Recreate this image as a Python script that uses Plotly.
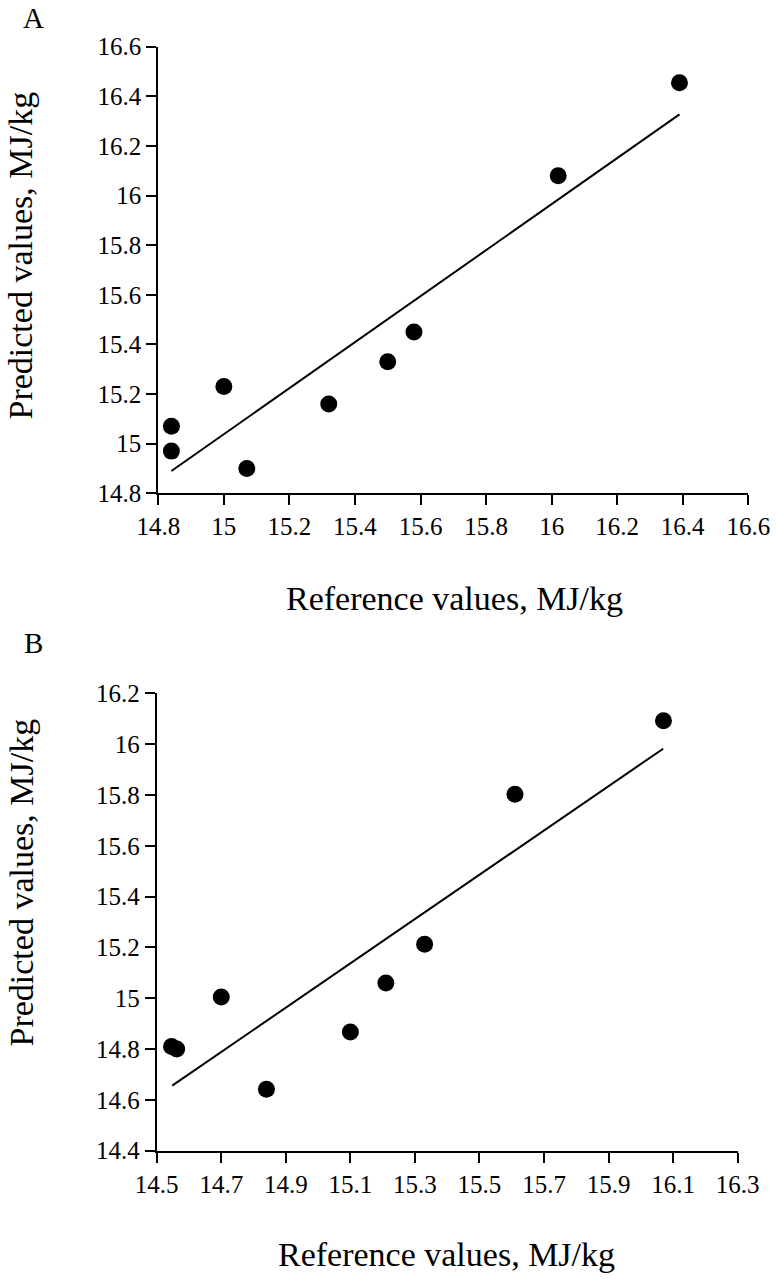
import plotly.graph_objects as go

# Panel A data
a_ref = [14.84, 14.84, 15.00, 15.07, 15.32, 15.50, 15.58, 16.02, 16.39]
a_pred = [15.07, 14.97, 15.23, 14.90, 15.16, 15.33, 15.45, 16.08, 16.455]
a_fit_x = [14.84, 16.39]
a_fit_y = [14.89, 16.327]
a_xticks = [14.8, 15.0, 15.2, 15.4, 15.6, 15.8, 16.0, 16.2, 16.4, 16.6]
a_yticks = [14.8, 15.0, 15.2, 15.4, 15.6, 15.8, 16.0, 16.2, 16.4, 16.6]

# Panel B data
b_ref = [14.546, 14.562, 14.70, 14.84, 15.10, 15.21, 15.33, 15.61, 16.07]
b_pred = [14.81, 14.80, 15.005, 14.642, 14.867, 15.06, 15.212, 15.803, 16.092]
b_fit_x = [14.548, 16.069]
b_fit_y = [14.656, 15.982]
b_xticks = [14.5, 14.7, 14.9, 15.1, 15.3, 15.5, 15.7, 15.9, 16.1, 16.3]
b_yticks = [14.4, 14.6, 14.8, 15.0, 15.2, 15.4, 15.6, 15.8, 16.0, 16.2]

x_title = "Reference values, MJ/kg"
y_title = "Predicted values, MJ/kg"

FONT = "Liberation Serif, Times New Roman, serif"
W, H = 776, 1280

def px(sx):
    return sx / W

def py(sy):
    return 1 - sy / H

def lbl(v):
    s = f"{v:.1f}"
    return s[:-2] if s.endswith(".0") else s

fig = go.Figure()
marker = dict(color="black", size=17)
line = dict(color="black", width=2)

fig.add_trace(go.Scatter(x=a_ref, y=a_pred, mode="markers", marker=marker, xaxis="x", yaxis="y", showlegend=False))
fig.add_trace(go.Scatter(x=a_fit_x, y=a_fit_y, mode="lines", line=line, xaxis="x", yaxis="y", showlegend=False))
fig.add_trace(go.Scatter(x=b_ref, y=b_pred, mode="markers", marker=marker, xaxis="x2", yaxis="y2", showlegend=False))
fig.add_trace(go.Scatter(x=b_fit_x, y=b_fit_y, mode="lines", line=line, xaxis="x2", yaxis="y2", showlegend=False))

ax_common = dict(showline=True, linecolor="black", linewidth=2, ticks="outside", ticklen=10,
                 tickwidth=2, tickcolor="black", showgrid=False, zeroline=False, automargin=False,
                 ticklabeloverflow="allow",
                 tickfont=dict(family=FONT, size=25, color="black"))

fig.update_layout(
    width=W, height=H,
    margin=dict(l=0, r=0, t=0, b=0, autoexpand=False),
    paper_bgcolor="white", plot_bgcolor="white",
    font=dict(family=FONT, color="black"),
    xaxis=dict(domain=[px(158.3), px(748.3)], range=[14.8, 16.6], anchor="y",
               tickvals=a_xticks, ticktext=[lbl(v) for v in a_xticks], **ax_common),
    yaxis=dict(domain=[py(493.3), py(46.7)], range=[14.8, 16.6], anchor="x",
               tickvals=a_yticks, ticktext=[lbl(v) for v in a_yticks], **ax_common),
    xaxis2=dict(domain=[px(156.7), px(737.7)], range=[14.5, 16.3], anchor="y2",
                tickvals=b_xticks, ticktext=[lbl(v) for v in b_xticks], **ax_common),
    yaxis2=dict(domain=[py(1150.7), py(693.3)], range=[14.4, 16.2], anchor="x2",
                tickvals=b_yticks, ticktext=[lbl(v) for v in b_yticks], **ax_common),
)

title_font = dict(family=FONT, size=34, color="black")
letter_font = dict(family=FONT, size=29, color="black")
anns = [
    dict(text="A", x=px(33), y=1, xref="paper", yref="paper", showarrow=False,
         font=letter_font, xanchor="center", yanchor="top"),
    dict(text="B", x=px(33), y=py(643), xref="paper", yref="paper", showarrow=False,
         font=letter_font, xanchor="center", yanchor="middle"),
    dict(text=x_title, x=px(454), y=py(598), xref="paper", yref="paper", showarrow=False,
         font=title_font, xanchor="center", yanchor="middle"),
    dict(text=x_title, x=px(447), y=py(1254), xref="paper", yref="paper", showarrow=False,
         font=title_font, xanchor="center", yanchor="middle"),
    dict(text=y_title, x=0, y=py(256), xref="paper", yref="paper", showarrow=False,
         font=title_font, textangle=-90, xanchor="left", yanchor="middle"),
    dict(text=y_title, x=0, y=py(883), xref="paper", yref="paper", showarrow=False,
         font=title_font, textangle=-90, xanchor="left", yanchor="middle"),
]
fig.update_layout(annotations=anns)

fig.write_html("out.html", config={"displayModeBar": False},
               post_script="document.body.style.margin='0';document.body.style.overflow='hidden';")
